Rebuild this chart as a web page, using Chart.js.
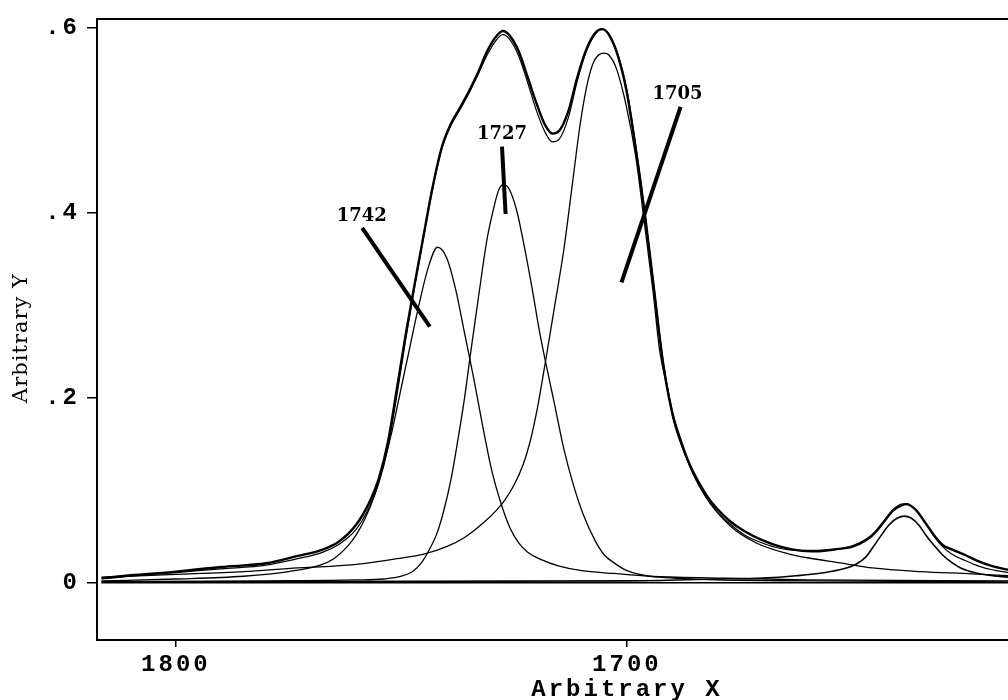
<!DOCTYPE html>
<html lang="en">
<head>
  <meta charset="UTF-8" />
  <title>Band fit</title>
  <script src="https://cdn.jsdelivr.net/npm/chart.js"></script>
  <style>
    body { margin: 0; background: #fff; }
    #wrap { width: 1008px; height: 700px; }
  </style>
</head>
<body>
  <div id="wrap"><canvas id="chartFit"></canvas></div>

  <script>
    // measured spectrum and fitted sum (same x grid)
    const specX = [1816.5, 1810, 1800, 1790, 1780, 1773, 1768, 1764, 1760, 1757,
      1755, 1753, 1751, 1749, 1747, 1745, 1743, 1741, 1739, 1737,
      1735, 1733, 1731, 1729, 1727.5, 1726, 1724, 1722, 1720, 1718,
      1716.5, 1715, 1713, 1711, 1709, 1707, 1705.5, 1704, 1702, 1700,
      1698, 1696, 1694, 1692, 1690, 1688, 1686, 1684, 1682, 1680,
      1677, 1674, 1670, 1666, 1662, 1658, 1654, 1650, 1647, 1645,
      1643, 1641, 1639, 1638, 1636, 1634, 1632, 1630, 1628, 1625,
      1622, 1619, 1615.5];
    const measuredY = [.005, .008, .012, .017, .021, .029, .035, .044, .063, .088,
      .113, .152, .21, .27, .325, .378, .43, .472, .497, .514,
      .532, .552, .575, .591, .597, .592, .575, .547, .518, .494,
      .486, .489, .51, .547, .577, .595, .599, .593, .57, .53,
      .468, .398, .318, .238, .185, .153, .127, .108, .092, .08,
      .066, .056, .046, .039, .035, .034, .036, .039, .046, .054,
      .066, .078, .084, .085, .079, .066, .052, .041, .036, .03,
      .023, .018, .014];
    const fitY = [.004, .007, .011, .015, .019, .026, .032, .041, .058, .083,
      .108, .146, .203, .265, .322, .376, .428, .47, .495, .512,
      .53, .55, .571, .587, .593, .588, .57, .541, .51, .486,
      .477, .48, .503, .543, .575, .594, .599, .594, .572, .533,
      .472, .4, .32, .241, .187, .152, .125, .105, .089, .077,
      .063, .052, .043, .037, .035, .035, .036, .04, .047, .055,
      .067, .079, .085, .085, .079, .066, .051, .039, .031, .024,
      .018, .014, .011];

    // component bands
    const band1742X = [1816.5, 1800, 1785, 1775, 1768, 1765, 1762, 1760, 1758, 1756,
      1754, 1752, 1750, 1748, 1746, 1744, 1742, 1740, 1738, 1736,
      1734, 1732, 1730, 1728, 1726, 1724, 1722, 1719, 1715, 1710,
      1703, 1695, 1680, 1660, 1615.5];
    const band1742Y = [.002, .004, .007, .012, .019, .026, .039, .052, .07, .094,
      .127, .166, .212, .258, .303, .342, .363, .352, .318, .27,
      .222, .17, .122, .087, .06, .043, .033, .025, .018, .013,
      .01, .007, .005, .003, .002];

    const band1727X = [1816.5, 1780, 1760, 1754, 1750, 1747.3, 1745.5, 1744, 1742, 1740.5,
      1739, 1737.7, 1736, 1734.7, 1733, 1731, 1729.6, 1728.5, 1727.4, 1726,
      1724.4, 1723, 1721, 1719.5, 1718, 1716, 1714, 1712, 1709.7, 1707,
      1705, 1703, 1700, 1696, 1692.7, 1680, 1660, 1615.5];
    const band1727Y = [.001, .002, .003, .004, .007, .013, .022, .034, .055, .08,
      .112, .148, .2, .247, .306, .372, .404, .424, .431, .425,
      .402, .37, .318, .275, .238, .192, .145, .108, .074, .045,
      .03, .022, .013, .008, .006, .003, .002, .001];

    const band1705X = [1816.5, 1800, 1785, 1773, 1765, 1758, 1751, 1745, 1740, 1736,
      1732, 1729, 1727, 1725, 1723, 1721.5, 1720, 1718, 1716, 1714,
      1712, 1710.4, 1709, 1707.5, 1706, 1705, 1704, 1702.3, 1700.1, 1698,
      1696.4, 1694.2, 1692.7, 1691, 1689.8, 1686.8, 1682.4, 1677.2, 1671.3, 1664,
      1660, 1652, 1645.6, 1635, 1623.5, 1615.5];
    const band1705Y = [.006, .009, .012, .016, .018, .021, .026, .031, .039, .049,
      .064, .078, .09, .106, .128, .152, .185, .241, .3, .36,
      .435, .495, .535, .562, .572, .573, .571, .556, .515, .46,
      .4, .315, .25, .21, .178, .135, .092, .062, .043, .031,
      .027, .021, .016, .012, .0096, .0075];

    const band1640X = [1816.5, 1700, 1680, 1670, 1662.5, 1656, 1652, 1649.2, 1647, 1645.5,
      1643.5, 1641.8, 1640, 1638.5, 1637, 1635.2, 1633.5, 1632, 1630, 1628,
      1626, 1623, 1619.7, 1615.5];
    const band1640Y = [.001, .002, .004, .005, .0075, .011, .015, .02, .028, .038,
      .052, .063, .07, .072, .07, .062, .05, .041, .03, .022,
      .016, .011, .008, .006];

    const zeroX = [1816.5, 1615.5];
    const zeroY = [0, 0];

    // label pointers and peak labels
    const pointerX = [[1758.7, 1743.7], [1727.7, 1726.9], [1688.1, 1701.2]];
    const pointerY = [[.384, .277], [.472, .399], [.515, .325]];
    const peakLabels = ['1742', '1727', '1705'];
    const labelX = [1758.8, 1727.7, 1688.8];
    const labelY = [.396, .485, .529];

    // axes
    const xTicks = [1800, 1700];
    const xTickLabels = ['1800', '1700'];
    const yTicks = [0, .2, .4, .6];
    const yTickLabels = ['0', '.2', '.4', '.6'];

    const pts = (xs, ys) => xs.map((x, i) => ({ x: x, y: ys[i] }));

    const curve = (data, width) => ({
      data: data,
      borderColor: '#000',
      borderWidth: width,
      pointRadius: 0,
      tension: 0.4,
      cubicInterpolationMode: 'monotone',
      fill: false
    });

    const datasets = [
      curve(pts(specX, measuredY), 2.4),
      curve(pts(specX, fitY), 1.2),
      curve(pts(band1742X, band1742Y), 1.3),
      curve(pts(band1727X, band1727Y), 1.3),
      curve(pts(band1705X, band1705Y), 1.3),
      curve(pts(band1640X, band1640Y), 1.6),
      curve(pts(zeroX, zeroY), 1.6)
    ];
    pointerX.forEach((xs, i) => {
      const d = curve(pts(xs, pointerY[i]), 4);
      d.tension = 0;
      datasets.push(d);
    });

    // frame, peak labels and axis titles
    const extras = {
      id: 'extras',
      beforeDraw(chart) {
        chart.ctx.letterSpacing = '3px';
      },
      afterDraw(chart) {
        const { ctx, chartArea: a, scales } = chart;
        ctx.save();
        ctx.letterSpacing = '0px';
        ctx.strokeStyle = '#000';
        ctx.lineWidth = 2;
        ctx.beginPath();
        ctx.moveTo(a.right, a.top);
        ctx.lineTo(a.left, a.top);
        ctx.lineTo(a.left, a.bottom);
        ctx.lineTo(a.right, a.bottom);
        ctx.stroke();

        ctx.fillStyle = '#000';
        ctx.textAlign = 'center';
        ctx.textBaseline = 'middle';
        ctx.font = 'bold 18px "DejaVu Serif"';
        peakLabels.forEach((t, i) => {
          ctx.fillText(t, scales.x.getPixelForValue(labelX[i]), scales.y.getPixelForValue(labelY[i]));
        });

        ctx.letterSpacing = '3px';
        ctx.font = 'bold 24px "Liberation Mono"';
        ctx.fillText('Arbitrary X', 627, 690);

        ctx.letterSpacing = '1px';
        ctx.font = '21px "DejaVu Serif"';
        ctx.translate(22, 338);
        ctx.rotate(-Math.PI / 2);
        ctx.fillText('Arbitrary Y', 0, 0);
        ctx.restore();
      }
    };

    const tickFont = { family: '"Liberation Mono", monospace', size: 24, weight: 'bold', lineHeight: 1 };

    new Chart(document.getElementById('chartFit'), {
      type: 'line',
      data: { datasets: datasets },
      plugins: [extras],
      options: {
        responsive: true,
        maintainAspectRatio: false,
        animation: false,
        events: [],
        layout: { padding: { top: 13, right: 0, left: 0, bottom: 0 } },
        plugins: { legend: { display: false }, tooltip: { enabled: false } },
        scales: {
          x: {
            type: 'linear',
            reverse: true,
            min: 1615.5,
            max: 1817.5,
            afterFit: s => { s.height = 60; },
            afterBuildTicks: s => { s.ticks = xTicks.map(v => ({ value: v })); },
            ticks: {
              color: '#000',
              font: tickFont,
              padding: 6,
              maxRotation: 0,
              callback: (v) => xTickLabels[xTicks.indexOf(v)]
            },
            grid: { drawOnChartArea: false, drawTicks: true, tickLength: 7, color: '#000', lineWidth: 1.5 },
            border: { display: false }
          },
          y: {
            min: -0.062,
            max: 0.61,
            afterFit: s => { s.width = 97; },
            afterBuildTicks: s => { s.ticks = yTicks.map(v => ({ value: v })); },
            ticks: {
              color: '#000',
              font: tickFont,
              padding: 7,
              callback: (v) => yTickLabels[yTicks.indexOf(v)]
            },
            grid: { drawOnChartArea: false, drawTicks: true, tickLength: 10, color: '#000', lineWidth: 1.5 },
            border: { display: false }
          }
        }
      }
    });
  </script>
</body>
</html>
